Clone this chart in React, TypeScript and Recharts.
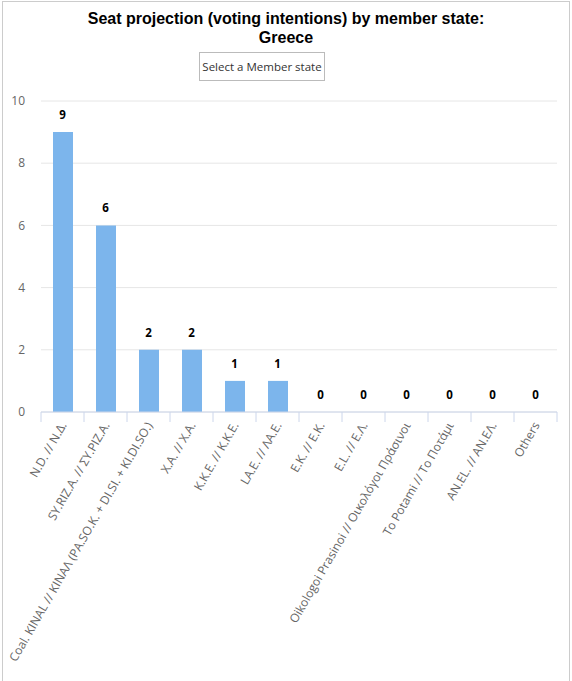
import React from "react";
import { ComposedChart, Bar, Line, XAxis, YAxis, CartesianGrid, LabelList } from "recharts";

const parties = [
  "N.D. // N.Δ.",
  "SY.RIZ.A. // ΣY.PIZ.A.",
  "Coal. KINAL // KINAΛ (PA.SO.K. + DI.SI. + KI.DI.SO.)",
  "X.A. // X.A.",
  "K.K.E. // K.K.E.",
  "LA.E. // ΛA.E.",
  "E.K. // E.K.",
  "E.L. // E.Λ.",
  "Oikologoi Prasinoi // Οικολόγοι Πράσινοι",
  "To Potami // Το Ποτάμι",
  "AN.EL. // AN.EΛ.",
  "Others",
];
const seats = [9, 6, 2, 2, 1, 1, 0, 0, 0, 0, 0, 0];
const yTicks = [0, 2, 4, 6, 8, 10];

const data = parties.map((name, i) => ({ name, seats: seats[i] }));

const FONT = "'Open Sans', 'Noto Sans', sans-serif";

const XTick = (props: any) => {
  const { x, y, payload, index, visibleTicksCount } = props;
  const off = payload.offset || 0;
  const isLast = index === visibleTicksCount - 1;
  return (
    <g>
      <line x1={x - off} x2={x - off} y1={y} y2={y + 10} stroke="#ccd6eb" />
      {isLast && <line x1={x + off} x2={x + off} y1={y} y2={y + 10} stroke="#ccd6eb" />}
      <g transform={`translate(${x + 1},${y + 11}) rotate(-60)`}>
        <text textAnchor="end" dy="0.35em" fill="#666666" fontSize={12} fontFamily={FONT}>
          {payload.value}
        </text>
      </g>
    </g>
  );
};

export default function App() {
  return (
    <div style={{ position: "absolute", left: 0, top: 0, width: 572, height: 681, background: "#fff", overflow: "hidden" }}>
      <div
        style={{
          position: "absolute",
          left: 2,
          top: 1,
          width: 566,
          height: 690,
          borderLeft: "1px solid #cccccc",
          borderTop: "1px solid #cccccc",
          borderRight: "1px solid #cccccc",
        }}
      />
      <div
        style={{
          position: "absolute",
          left: 0,
          top: 9,
          width: 572,
          textAlign: "center",
          fontFamily: "'Liberation Sans', Arial, sans-serif",
          fontWeight: "bold",
          fontSize: 16,
          lineHeight: "19px",
          color: "#000",
        }}
      >
        Seat projection (voting intentions) by member state:
        <br />
        Greece
      </div>
      <div
        style={{
          position: "absolute",
          left: 199,
          top: 52,
          width: 124,
          height: 27,
          border: "1px solid #bbbbbb",
          fontFamily: FONT,
          fontSize: 11.5,
          lineHeight: "27px",
          textAlign: "center",
          whiteSpace: "nowrap",
          color: "#333",
          boxSizing: "content-box",
        }}
      >
        Select a Member state
      </div>
      <div style={{ position: "absolute", left: 0, top: 0 }}>
        <ComposedChart
          width={572}
          height={681}
          data={data}
          margin={{ top: 101, right: 15, left: 0, bottom: 0 }}
        >
          <CartesianGrid horizontal vertical={false} stroke="#e6e6e6" />
          <XAxis
            dataKey="name"
            interval={0}
            height={269}
            tickSize={0}
            tickMargin={0}
            tickLine={false}
            axisLine={{ stroke: "#ccd6eb" }}
            tick={<XTick />}
          />
          <YAxis
            width={41}
            domain={[0, 10]}
            ticks={yTicks}
            axisLine={false}
            tickLine={false}
            tickMargin={10}
            tick={{ fill: "#666666", fontSize: 12, fontFamily: FONT }}
          />
          <Bar dataKey="seats" fill="#7cb5ec" barSize={20} isAnimationActive={false} />
          <Line
            dataKey="seats"
            stroke="none"
            dot={false}
            activeDot={false}
            isAnimationActive={false}
          >
            <LabelList
              dataKey="seats"
              position="top"
              offset={13}
              fill="#000"
              fontWeight="bold"
              fontSize={11.5}
              fontFamily={FONT}
            />
          </Line>
        </ComposedChart>
      </div>
    </div>
  );
}
